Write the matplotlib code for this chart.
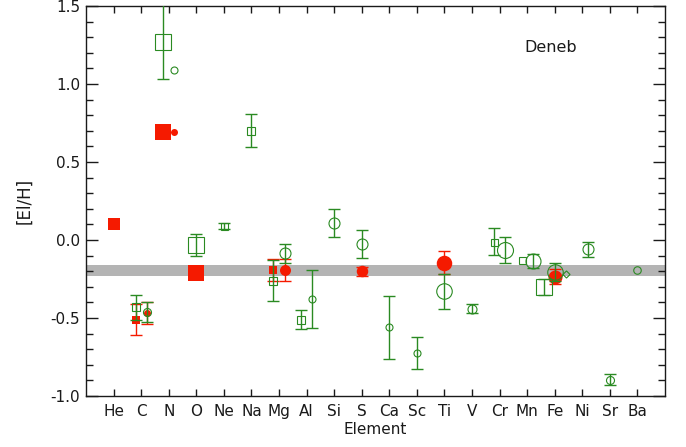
import numpy as np
import matplotlib
matplotlib.use("Agg")
import matplotlib.pyplot as plt
from matplotlib.ticker import MultipleLocator, FixedLocator, FormatStrFormatter

# ---- data -------------------------------------------------------------
elements = ["He", "C", "N", "O", "Ne", "Na", "Mg", "Al", "Si", "S",
            "Ca", "Sc", "Ti", "V", "Cr", "Mn", "Fe", "Ni", "Sr", "Ba"]

# green open squares
gsq_el = ["C", "N", "O", "Ne", "Na", "Mg", "Al", "Cr", "Mn", "Fe"]
gsq_val = [-0.43, 1.27, -0.03, 0.09, 0.70, -0.26, -0.51, -0.01, -0.13, -0.30]
gsq_err = [0.08, 0.24, 0.07, 0.02, 0.105, 0.13, 0.06, 0.085, np.nan, 0.05]

# green open circles
gci_el = ["C", "N", "Mg", "Al", "Si", "S", "Ca", "Sc", "Ti", "V",
          "Cr", "Mn", "Fe", "Ni", "Sr", "Ba"]
gci_val = [-0.46, 1.09, -0.085, -0.38, 0.11, -0.025, -0.56, -0.725, -0.33, -0.44,
           -0.065, -0.135, -0.205, -0.06, -0.895, -0.19]
gci_err = [0.065, np.nan, 0.06, 0.185, 0.09, 0.09, 0.20, 0.105, 0.115, 0.03,
           0.085, 0.045, 0.06, 0.05, 0.035, np.nan]

# red filled squares
rsq_el = ["He", "C", "N", "O", "Mg"]
rsq_val = [0.10, -0.51, 0.69, -0.21, -0.19]
rsq_err = [np.nan, 0.10, np.nan, np.nan, 0.07]

# red filled circles
rci_el = ["C", "N", "Mg", "S", "Ti", "Fe"]
rci_val = [-0.47, 0.69, -0.19, -0.20, -0.145, -0.235]
rci_err = [0.07, np.nan, 0.07, 0.03, 0.075, 0.05]

# green open diamond
gdi_el = ["Fe"]
gdi_val = [-0.22]

# mean metallicity band
band_lo, band_hi = -0.23, -0.16

# ---- layout / style ---------------------------------------------------
# horizontal shifts (in element units) that keep overlapping symbols apart
gsq_shift = [-0.2, -0.2, 0, 0, 0, -0.2, -0.2, -0.2, -0.2, -0.4]
gci_shift = [0.2, 0.2, 0.2, 0.2, 0, 0, 0, 0, 0, 0, 0.2, 0.2, 0, 0.2, 0, 0]
rsq_shift = [0, -0.2, -0.2, 0, -0.2]
rci_shift = [0.2, 0.2, 0.2, 0, 0, 0]
gdi_shift = [0.4]

# symbol sizes in pixels
gsq_px = [8, 16, 16, 7, 8, 8, 8, 7, 7, 16]
gci_px = [8, 7, 11, 7, 11, 11, 7, 7, 15.5, 9, 16, 15, 15.5, 11, 8, 7.5]
rsq_px = [12, 8, 16, 16, 8]
rci_px = [7, 7, 11, 11.5, 15.5, 14]
gdi_px = [5]

GREEN = "#2a8a22"
RED = "#f51a00"
BAND = "#b4b4b4"
INK = "#1a1a1a"
PX = 0.72  # points per pixel at dpi=100
FS = 11

W, H = 686, 447
fig = plt.figure(figsize=(W / 100, H / 100), dpi=100)
ax = fig.add_axes([86 / W, 1 - 396 / H, (665 - 86) / W, (396 - 6) / H])

xpos = {e: i + 1 for i, e in enumerate(elements)}

ax.axhspan(band_lo, band_hi, color=BAND, lw=0, zorder=1)


def draw(els, vals, errs, shifts, sizes, marker, color, filled, z):
    x = np.array([xpos[e] for e in els], float) + np.array(shifts)
    y = np.array(vals, float)
    if errs is not None:
        e = np.array(errs, float)
        m = ~np.isnan(e)
        ax.errorbar(x[m], y[m], yerr=e[m], fmt="none", ecolor=color,
                    elinewidth=1.0, capsize=4.3, capthick=1.0, zorder=z)
    for xi, yi, s in zip(x, y, sizes):
        ax.plot([xi], [yi], marker=marker, ms=s * PX, ls="none",
                mfc=color if filled else "none", mec=color,
                mew=0.8 if not filled else 0.0, zorder=z + 0.5)


draw(rsq_el, rsq_val, rsq_err, rsq_shift, rsq_px, "s", RED, True, 3)
draw(rci_el, rci_val, rci_err, rci_shift, rci_px, "o", RED, True, 3)
draw(gsq_el, gsq_val, gsq_err, gsq_shift, gsq_px, "s", GREEN, False, 5)
draw(gci_el, gci_val, gci_err, gci_shift, gci_px, "o", GREEN, False, 5)
draw(gdi_el, gdi_val, None, gdi_shift, gdi_px, "D", GREEN, False, 5)

ax.set_xlim(0, len(elements) + 1)
ax.set_ylim(-1.0, 1.5)

ax.xaxis.set_major_locator(FixedLocator(range(1, len(elements) + 1)))
ax.set_xticklabels(elements)
ax.yaxis.set_major_locator(MultipleLocator(0.5))
ax.yaxis.set_minor_locator(MultipleLocator(0.1))
ax.yaxis.set_major_formatter(FormatStrFormatter("%.1f"))

ax.tick_params(axis="both", which="both", direction="in", colors=INK,
               labelcolor=INK, labelsize=FS, width=1.0)
ax.tick_params(axis="y", which="major", length=8.3, left=True, right=True, pad=4.3)
ax.tick_params(axis="y", which="minor", length=4.7, left=True, right=True)
ax.tick_params(axis="x", which="major", length=5.0, bottom=True, top=True, pad=6)

for sp in ax.spines.values():
    sp.set_color(INK)
    sp.set_linewidth(1.0)

ax.set_xlabel("Element", fontsize=FS, color=INK, labelpad=2)
ax.set_ylabel("[El/H]", fontsize=FS + 1, color=INK, labelpad=12)
ax.text(0.802, 0.893, "Deneb", transform=ax.transAxes, fontsize=11.5,
        color=INK, ha="center", va="center")

fig.savefig("out.png", dpi=100)
